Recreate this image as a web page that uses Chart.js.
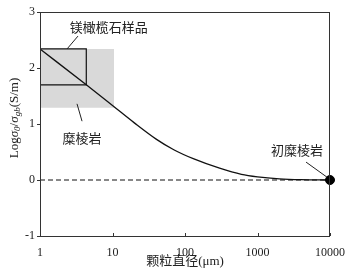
<!DOCTYPE html>
<html lang="zh">
<head>
<meta charset="UTF-8" />
<title>颗粒直径</title>
<style>
  * { margin: 0; padding: 0; }
  body { background: #fff; }
  .chartBox { width: 359px; height: 275px; }
</style>
</head>
<body>
<div class="chartBox"><canvas id="myChart" width="359" height="275"></canvas></div>
<script src="https://cdn.jsdelivr.net/npm/chart.js"></script>
<script>
// curve: log(sigma0/sigma_gb) against grain size (um)
const grainSize = [1, 4.35, 10, 20, 40, 70, 130, 300, 600, 1000, 2000, 4000, 10000];
const logRatio = [2.34, 1.70, 1.33, 1.02, 0.73, 0.54, 0.38, 0.21, 0.10, 0.055, 0.02, 0.005, 0];

// mylonite range (grey box) and forsterite sample range (outlined box)
const myloniteX = [1, 10.5];
const myloniteY = [1.29, 2.34];
const sampleX = [1, 4.35];
const sampleY = [1.70, 2.34];

// protomylonite point
const protoX = [10000];
const protoY = [0];

const xTicks = [1, 10, 100, 1000, 10000];
const xTickLabels = ['1', '10', '100', '1000', '10000'];
const yTicks = [3, 2, 1, 0, -1];
const yTickLabels = ['3', '2', '1', '0', '-1'];

// labels with leader lines, in data coordinates
const notes = [
  { text: '镁橄榄石样品', at: [8.9, 2.73], from: [2.36, 2.34], to: [3.34, 2.57] },
  { text: '糜棱岩', at: [3.8, 0.75], from: [3.24, 1.36], to: [3.8, 1.05] },
  { text: '初糜棱岩', at: [3500, 0.54], from: [4670, 0.32], to: [9100, 0.05] },
];

const pts = (xs, ys) => xs.map((x, i) => ({ x, y: ys[i] }));

const serif = "'Liberation Serif', 'Times New Roman'";
const cjk = "'Noto Sans CJK SC', sans-serif";

const framePlugin = {
  id: 'frame',
  afterDatasetsDraw(chart) {
    const { ctx, chartArea: a, scales: { x, y } } = chart;
    ctx.save();
    ctx.strokeStyle = '#333';
    ctx.lineWidth = 1;
    ctx.strokeRect(Math.round(a.left) + 0.5, Math.round(a.top) + 0.5,
      Math.round(a.width) - 1, Math.round(a.height));
    // inward x ticks
    xTicks.forEach((v) => {
      const px = Math.round(x.getPixelForValue(v)) + 0.5;
      ctx.beginPath();
      ctx.moveTo(px, a.bottom);
      ctx.lineTo(px, a.bottom - 3);
      ctx.stroke();
    });
    // note lines and text
    ctx.strokeStyle = '#222';
    ctx.fillStyle = '#222';
    ctx.font = '13px ' + cjk;
    ctx.textAlign = 'center';
    ctx.textBaseline = 'middle';
    notes.forEach((n) => {
      ctx.beginPath();
      ctx.moveTo(x.getPixelForValue(n.from[0]), y.getPixelForValue(n.from[1]));
      ctx.lineTo(x.getPixelForValue(n.to[0]), y.getPixelForValue(n.to[1]));
      ctx.stroke();
      ctx.fillText(n.text, x.getPixelForValue(n.at[0]), y.getPixelForValue(n.at[1]));
    });
    // y title with subscripts
    const parts = [
      { t: 'Log', f: '13px ' + serif, dy: 0 },
      { t: 'σ', f: 'italic 13px ' + serif, dy: 0 },
      { t: '0', f: 'italic 9px ' + serif, dy: 3 },
      { t: '/', f: '13px ' + serif, dy: 0 },
      { t: 'σ', f: 'italic 13px ' + serif, dy: 0 },
      { t: 'gb', f: 'italic 9px ' + serif, dy: 3 },
      { t: '(S/m)', f: '13px ' + serif, dy: 0 },
    ];
    let total = 0;
    parts.forEach((p) => { ctx.font = p.f; p.w = ctx.measureText(p.t).width; total += p.w; });
    ctx.translate(15, (a.top + a.bottom) / 2 - 6);
    ctx.rotate(-Math.PI / 2);
    ctx.textAlign = 'left';
    ctx.textBaseline = 'middle';
    let cx = -total / 2;
    parts.forEach((p) => {
      ctx.font = p.f;
      ctx.fillText(p.t, cx, p.dy);
      cx += p.w;
    });
    ctx.restore();
  },
};

new Chart(document.getElementById('myChart'), {
  type: 'line',
  data: {
    datasets: [
      {
        data: pts(protoX, protoY),
        showLine: false,
        pointRadius: 4.5,
        pointBackgroundColor: '#000',
        pointBorderColor: '#000',
        clip: false,
      },
      {
        data: pts(grainSize, logRatio),
        borderColor: '#111',
        borderWidth: 1.3,
        pointRadius: 0,
        cubicInterpolationMode: 'monotone',
      },
      {
        data: [
          { x: sampleX[0], y: sampleY[1] },
          { x: sampleX[1], y: sampleY[1] },
          { x: sampleX[1], y: sampleY[0] },
          { x: sampleX[0], y: sampleY[0] },
        ],
        borderColor: '#111',
        borderWidth: 1.2,
        pointRadius: 0,
      },
      {
        data: [{ x: xTicks[0], y: 0 }, { x: xTicks[xTicks.length - 1], y: 0 }],
        borderColor: '#111',
        borderWidth: 1,
        borderDash: [5, 3],
        pointRadius: 0,
      },
      {
        data: [
          { x: myloniteX[0], y: myloniteY[1] },
          { x: myloniteX[1], y: myloniteY[1] },
        ],
        borderWidth: 0,
        pointRadius: 0,
        fill: { value: myloniteY[0] },
        backgroundColor: '#d9d9d9',
      },
    ],
  },
  options: {
    responsive: false,
    animation: false,
    devicePixelRatio: 1,
    layout: { padding: { top: 12, right: 29, bottom: 0, left: 0 } },
    plugins: { legend: { display: false }, tooltip: { enabled: false } },
    scales: {
      x: {
        type: 'logarithmic',
        min: 1,
        max: 10000,
        border: { display: false },
        grid: { display: false },
        afterBuildTicks: (s) => { s.ticks = xTicks.map((v) => ({ value: v })); },
        afterFit: (s) => { s.height = 39; },
        ticks: {
          autoSkip: false,
          maxRotation: 0,
          padding: 2,
          color: '#222',
          font: { family: serif + ', serif', size: 12 },
          callback: (v) => xTickLabels[xTicks.indexOf(v)],
        },
        title: {
          display: true,
          text: '颗粒直径(μm)',
          color: '#222',
          font: { family: serif + ', ' + cjk, size: 13 },
          padding: { top: 0, bottom: 6 },
        },
      },
      y: {
        min: -1,
        max: 3,
        border: { display: false },
        grid: { drawOnChartArea: false, drawTicks: true, tickLength: 3, color: '#333' },
        afterBuildTicks: (s) => { s.ticks = yTicks.map((v) => ({ value: v })); },
        afterFit: (s) => { s.width = 40; },
        ticks: {
          padding: 2,
          color: '#222',
          font: { family: serif + ', serif', size: 12 },
          callback: (v) => yTickLabels[yTicks.indexOf(v)],
        },
      },
    },
  },
  plugins: [framePlugin],
});
</script>
</body>
</html>
